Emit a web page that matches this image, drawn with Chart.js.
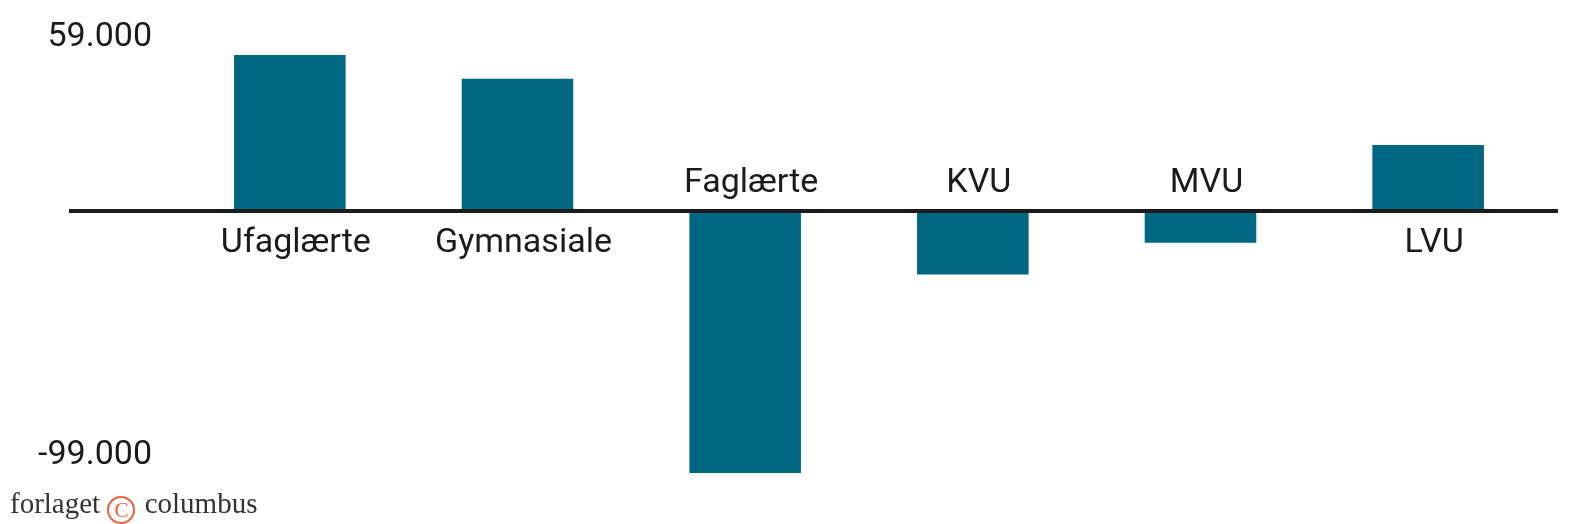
<!DOCTYPE html>
<html>
<head>
<meta charset="utf-8">
<script src="https://cdn.jsdelivr.net/npm/chart.js@4/dist/chart.umd.min.js"></script>
<style>
  body { margin: 0; background: #fff; }
  #wrap { position: relative; width: 1586px; height: 524px; }
  #logo {
    position: absolute; left: 10px; top: 487px;
    font-family: "Liberation Serif", "DejaVu Serif", serif;
    font-size: 29px; color: #333; white-space: nowrap;
  }
  #logo .c {
    display: inline-block; width: 24px; height: 24px; line-height: 24px;
    border: 2px solid #e8613c; border-radius: 50%; color: #e8613c;
    text-align: center; font-size: 21px; vertical-align: -4px; margin: 0 2px 0 0;
  }
</style>
</head>
<body>
<div id="wrap">
  <canvas id="chart" width="1586" height="524"></canvas>
  <div id="logo">forlaget <span class="c">C</span> columbus</div>
</div>
<script>
// data
const categories = ["Ufaglærte", "Gymnasiale", "Faglærte", "KVU", "MVU", "LVU"];
const values = [59000, 50000, -99000, -24000, -12000, 25000];
const yTicks = [-99000, 59000];

const barColor = "#016682";
const textColor = "#1b1b1b";

function fmt(v) {
  const s = Math.abs(v).toString().replace(/\B(?=(\d{3})+(?!\d))/g, ".");
  return (v < 0 ? "-" : "") + s;
}

// zero line + category labels on the opposite side of each bar
const labelPlugin = {
  id: "labelPlugin",
  afterDatasetsDraw(chart) {
    const ctx = chart.ctx;
    const xs = chart.scales.x;
    const ys = chart.scales.y;
    const zeroY = ys.getPixelForValue(0);

    ctx.save();
    ctx.strokeStyle = textColor;
    ctx.lineWidth = 4;
    ctx.beginPath();
    ctx.moveTo(chart.chartArea.left - 107, zeroY);
    ctx.lineTo(chart.chartArea.right + 16, zeroY);
    ctx.stroke();

    ctx.fillStyle = textColor;
    ctx.font = "34px Roboto";
    ctx.textAlign = "center";
    ctx.textBaseline = "alphabetic";
    categories.forEach((cat, i) => {
      const x = xs.getPixelForValue(i) + 6;
      const y = values[i] >= 0 ? zeroY + 41 : zeroY - 19;
      ctx.fillText(cat, x, y);
    });
    ctx.restore();
  }
};

new Chart(document.getElementById("chart"), {
  type: "bar",
  data: {
    labels: categories,
    datasets: [
      {
        data: values,
        backgroundColor: barColor,
        borderWidth: 0,
        barPercentage: 0.98,
        categoryPercentage: 0.5,
      },
    ],
  },
  options: {
    responsive: false,
    animation: false,
    events: [],
    layout: {
      padding: { left: 0, right: 44, top: 55, bottom: 51 },
    },
    plugins: {
      legend: { display: false },
      tooltip: { enabled: false },
    },
    scales: {
      x: {
        display: false,
      },
      y: {
        min: -99000,
        max: 59000,
        afterBuildTicks: (scale) => {
          scale.ticks = yTicks.map((v) => ({ value: v }));
        },
        afterFit: (scale) => {
          scale.width = 176;
        },
        grid: { display: false, drawTicks: false },
        border: { display: false },
        ticks: {
          padding: 24,
          labelOffset: -18,
          color: textColor,
          font: { family: "Roboto", size: 34 },
          callback: (v) => fmt(v),
        },
      },
    },
  },
  plugins: [labelPlugin],
});
</script>
</body>
</html>
